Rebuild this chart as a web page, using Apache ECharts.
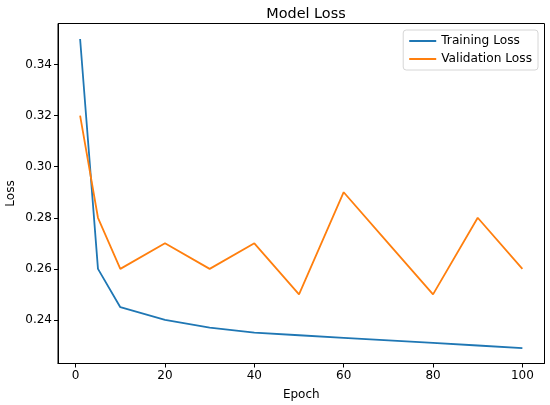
<!DOCTYPE html>
<html>
<head>
<meta charset="utf-8">
<script src="https://cdn.jsdelivr.net/npm/echarts@6/dist/echarts.min.js"></script>
<style>
  html, body { margin: 0; padding: 0; background: #fff; }
  #chart { width: 550px; height: 405px; }
</style>
</head>
<body>
<div id="chart"></div>
<script>
// values
const epochs = [1, 5, 10, 20, 30, 40, 50, 60, 70, 80, 90, 100];
const trainLoss = [0.35, 0.26, 0.245, 0.24, 0.237, 0.235, 0.234, 0.233, 0.232, 0.231, 0.230, 0.229];
const valLoss = [0.32, 0.28, 0.26, 0.27, 0.26, 0.27, 0.25, 0.29, 0.27, 0.25, 0.28, 0.26];
const xTicks = [0, 20, 40, 60, 80, 100];
const yTicks = [0.24, 0.26, 0.28, 0.30, 0.32, 0.34];

const font = '"DejaVu Sans", sans-serif';

function pairs(xs, ys) {
  return xs.map((x, i) => [x, ys[i]]);
}

// matplotlib style 5% margins around the data
const allY = trainLoss.concat(valLoss);
const yLo = Math.min.apply(Math, allY), yHi = Math.max.apply(Math, allY);
const yPad = (yHi - yLo) * 0.05;
const xLo = Math.min.apply(Math, epochs), xHi = Math.max.apply(Math, epochs);
const xPad = (xHi - xLo) * 0.05;

const myChart = echarts.init(document.getElementById('chart'), null, { renderer: 'canvas' });

const axisCommon = {
  type: 'value',
  nameLocation: 'middle',
  nameMoveOverlap: false,
  nameTextStyle: { fontFamily: font, fontSize: 12, color: '#000' },
  axisLine: { show: true, onZero: false, lineStyle: { color: '#000', width: 1 } },
  splitLine: { show: false }
};

const option = {
  backgroundColor: '#fff',
  animation: false,
  textStyle: { fontFamily: font },
  title: {
    text: 'Model Loss',
    left: 301,
    top: 2,
    textAlign: 'center',
    textStyle: { fontFamily: font, fontSize: 14.4, fontWeight: 'normal', color: '#000' }
  },
  legend: {
    right: 12,
    top: 30,
    orient: 'vertical',
    itemWidth: 27,
    itemHeight: 2,
    itemGap: 6,
    padding: [5, 6, 5, 6],
    backgroundColor: 'rgba(255,255,255,0.8)',
    borderColor: '#d6d6d6',
    borderWidth: 1,
    borderRadius: 3,
    icon: 'rect',
    textStyle: { fontFamily: font, fontSize: 12.2, color: '#000' },
    data: ['Training Loss', 'Validation Loss']
  },
  grid: {
    left: 58,
    right: 5.5,
    top: 23.5,
    bottom: 41.5,
    containLabel: false,
    outerBoundsMode: 'none',
    show: true,
    borderColor: '#000',
    borderWidth: 1
  },
  xAxis: Object.assign({}, axisCommon, {
    min: xLo - xPad,
    max: xHi + xPad,
    name: 'Epoch',
    nameGap: 25,
    axisTick: { show: true, inside: false, length: 4, customValues: xTicks, lineStyle: { color: '#000' } },
    axisLabel: {
      customValues: xTicks,
      margin: 6,
      fontFamily: font, fontSize: 12, color: '#000'
    }
  }),
  yAxis: Object.assign({}, axisCommon, {
    min: yLo - yPad,
    max: yHi + yPad,
    name: 'Loss',
    nameGap: 41,
    axisTick: { show: true, inside: false, length: 4, customValues: yTicks, lineStyle: { color: '#000' } },
    axisLabel: {
      customValues: yTicks,
      margin: 6,
      fontFamily: font, fontSize: 12, color: '#000',
      formatter: v => v.toFixed(2)
    }
  }),
  series: [
    {
      name: 'Training Loss',
      type: 'line',
      data: pairs(epochs, trainLoss),
      showSymbol: false,
      symbol: 'none',
      color: '#1f77b4',
      lineStyle: { width: 1.8, color: '#1f77b4' }
    },
    {
      name: 'Validation Loss',
      type: 'line',
      data: pairs(epochs, valLoss),
      showSymbol: false,
      symbol: 'none',
      color: '#ff7f0e',
      lineStyle: { width: 1.8, color: '#ff7f0e' }
    }
  ]
};

myChart.setOption(option);
</script>
</body>
</html>
